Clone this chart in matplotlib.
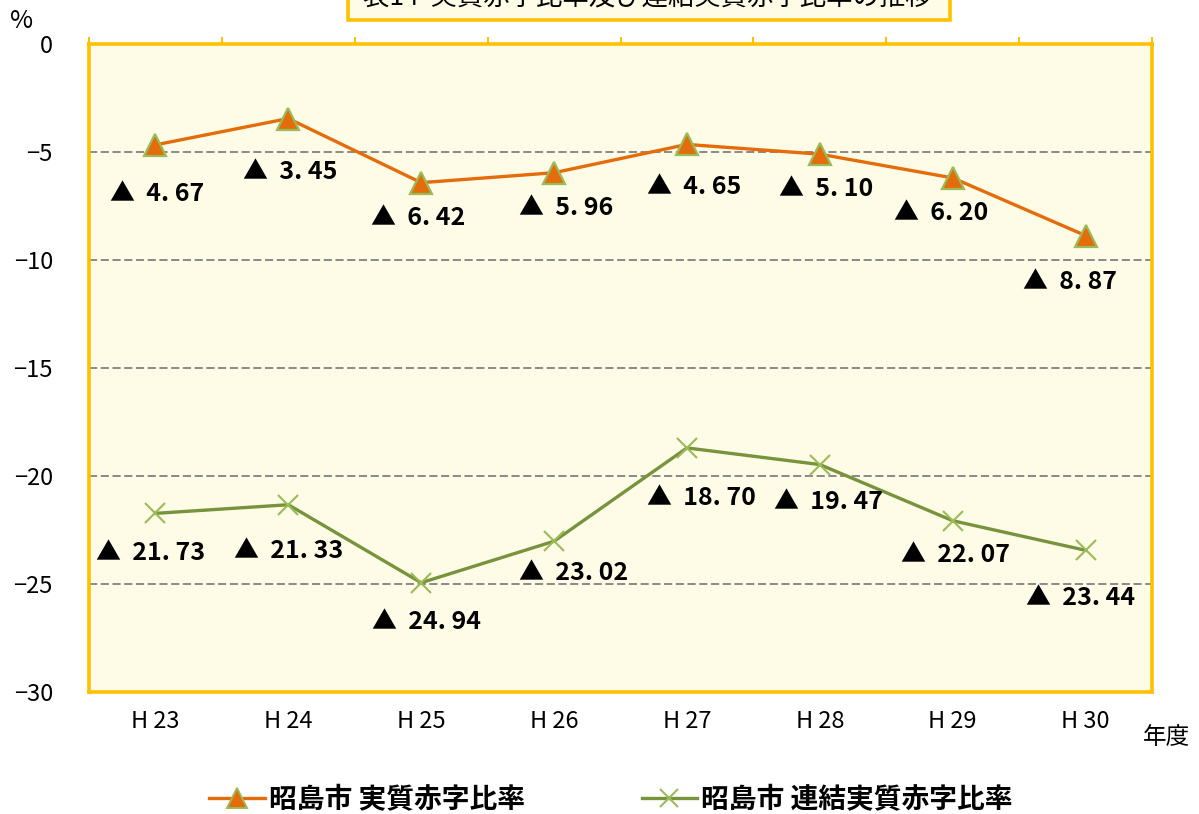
import matplotlib
matplotlib.use("Agg")
import matplotlib.pyplot as plt
from matplotlib.lines import Line2D
from matplotlib.patches import Rectangle

plt.rcParams['font.family'] = ['Noto Sans CJK JP', 'DejaVu Sans']

# 年度別の比率（赤字は負値で表示）
years = ["H 23", "H 24", "H 25", "H 26", "H 27", "H 28", "H 29", "H 30"]
jisshitsu = [-4.67, -3.45, -6.42, -5.96, -4.65, -5.10, -6.20, -8.87]
renketsu = [-21.73, -21.33, -24.94, -23.02, -18.70, -19.47, -22.07, -23.44]
series_names = ["昭島市 実質赤字比率", "昭島市 連結実質赤字比率"]
title_text = "表14  実質赤字比率及び連結実質赤字比率の推移"
y_ticks = [0, -5, -10, -15, -20, -25, -30]

# ラベル位置（点からのずれ, ピクセル）
offs_j = [(-45, 49), (-45, 53), (-50, 35), (-35, 35), (-40, 43), (-41, 35), (-59, 35), (-63, 46)]
offs_r = [(-59, 40), (-54, 46), (-49, 39), (-35, 32), (-40, 50), (-46, 37), (-52, 34), (-60, 48)]

ORANGE = "#E46C0A"
GREEN = "#77933C"
GREEN_LIGHT = "#9BBB59"
GOLD = "#FFC000"
BG = "#FEFCE7"

W, H = 1199, 814
fig = plt.figure(figsize=(W / 100, H / 100), dpi=100)
L, R, T, B = 89, 1152, 44, 692
ax = fig.add_axes([L / W, 1 - B / H, (R - L) / W, (B - T) / H])
ax.set_facecolor(BG)

x = list(range(len(years)))
ax.set_xlim(-0.5, len(years) - 0.5)
ax.set_ylim(-30, 0)

ax.set_yticks(y_ticks)
ax.set_yticklabels([f"{v}".replace("-", "\u2212") for v in y_ticks], fontsize=17)
ax.tick_params(axis='y', length=0, pad=26)

ax.set_xticks(x)
ax.set_xticklabels(years, fontsize=17)
ax.tick_params(axis='x', which='major', length=0, pad=13)
ax.set_xticks([i - 0.5 for i in range(len(years) + 1)], minor=True)
ax.tick_params(axis='x', which='minor', bottom=False, top=True, direction='out',
               length=5, width=1.5, color=GOLD)

for yv in y_ticks[1:-1]:
    ax.axhline(yv, color="#808080", lw=1.3, ls=(0, (4.5, 2)), zorder=1)

for s in ax.spines.values():
    s.set_color(GOLD)
    s.set_linewidth(2.6)
    s.set_zorder(5)

ax.plot(x, jisshitsu, color=ORANGE, lw=2.4, marker='^', ms=16,
        mfc=ORANGE, mec=GREEN_LIGHT, mew=1.6, zorder=3, clip_on=False)
ax.plot(x, renketsu, color=GREEN, lw=2.4, marker='x', ms=15,
        mec=GREEN_LIGHT, mew=1.5, zorder=3, clip_on=False)

def label(xi, v, off):
    txt = "▲  " + f"{abs(v):.2f}".replace(".", ". ")
    ax.annotate(txt, (xi, v), xytext=off, textcoords='offset pixels',
                ha='left', va='center', fontsize=18, fontweight='bold',
                color='black', zorder=4)

for xi, v, o in zip(x, jisshitsu, offs_j):
    label(xi, v, (o[0], -o[1]))
for xi, v, o in zip(x, renketsu, offs_r):
    label(xi, v, (o[0], -o[1]))

# 単位表示
fig.text(22 / W, 1 - 21 / H, "%", fontsize=18, ha='center', va='center')
fig.text(1166 / W, 1 - 737 / H, "年度", fontsize=17, ha='center', va='center')

# タイトル枠（上端は切れている）
fig.patches.append(Rectangle((348 / W, 1 - 20 / H), 602 / W, 60 / H,
                             transform=fig.transFigure, facecolor=BG,
                             edgecolor=GOLD, lw=2.6, clip_on=False))
fig.text(647 / W, 1 + 3 / H, title_text, fontsize=19, ha='center', va='center')

# 凡例
handles = [
    Line2D([], [], color=ORANGE, lw=2.4, marker='^', ms=14, mfc=ORANGE,
           mec=GREEN_LIGHT, mew=1.4),
    Line2D([], [], color=GREEN, lw=2.4, marker='x', ms=13, mec=GREEN_LIGHT, mew=1.5),
]
fig.legend(handles, series_names, loc='center', bbox_to_anchor=(611 / W, 1 - 800 / H),
           ncol=2, frameon=False, prop={'size': 20, 'weight': 'bold'},
           handlelength=2.0, handletextpad=0.15, columnspacing=4.2)

fig.savefig("out.png", dpi=100)
